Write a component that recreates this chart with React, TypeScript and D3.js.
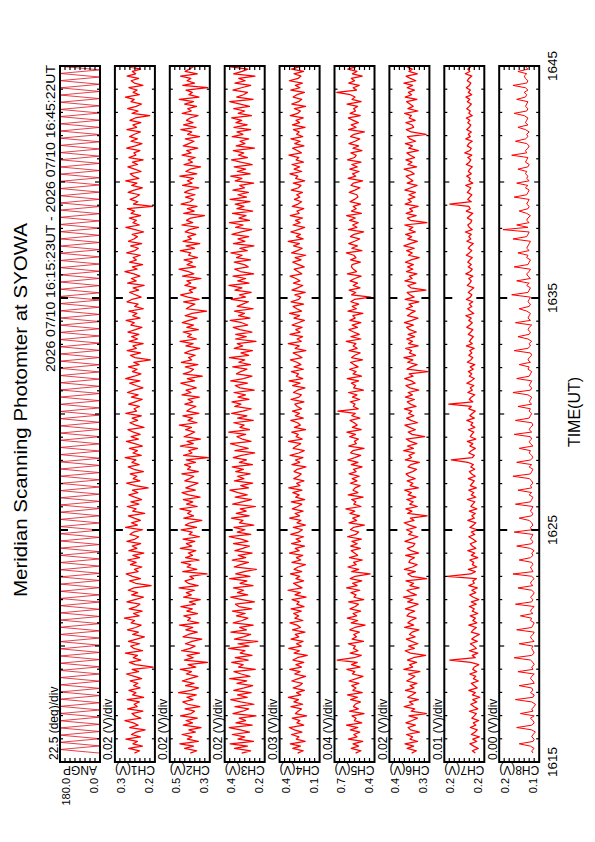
import React from 'react';
import * as d3 from 'd3';

// time is seconds after 16:15:00 UT
const dataStartSec = 23;   // 16:15:23
const dataEndSec = 1822;   // 16:45:22

const panelNames = ['ANGP', 'CH1(V)', 'CH2(V)', 'CH3(V)', 'CH4(V)', 'CH5(V)', 'CH6(V)', 'CH7(V)', 'CH8(V)'];
const divLabels = ['22.5 (deg)/div', '0.02 (V)/div', '0.02 (V)/div', '0.02 (V)/div', '0.03 (V)/div',
  '0.04 (V)/div', '0.02 (V)/div', '0.01 (V)/div', '0.00 (V)/div'];
const topLabels = ['180.0', '0.3', '0.5', '0.4', '0.4', '0.7', '0.4', '0.2', '0.2'];
const bottomLabels = ['0.0', '0.2', '0.3', '0.2', '0.1', '0.4', '0.3', '0.2', '0.1'];
// panel value ranges (deg for ANGP, mV for channels)
const panelDomains = [[0, 180], [180, 340], [320, 480], [220, 380], [130, 370], [380, 700], [270, 430], [160, 240], [130, 162]];

const timeTicks = [0, 600, 1200, 1800];
const timeTickLabels = ['1615', '1625', '1635', '1645'];

// scanner angle turns back and forth between the two ends
const angpSweep = [0, 180];
const angpStepSec = 9.3;

// channel readings in mV, evenly spaced from 16:15:23 to 16:45:22
const ch1 = [
  262,241,285,230,268,250,296,238,274,255,219,281,247,266,300,236,259,272,228,289,251,263,242,291,225,270,256,284,239,265,
  248,279,233,262,294,245,271,187,258,282,236,267,250,298,229,264,277,241,286,253,222,269,246,290,257,235,275,261,302,243,
  266,231,283,254,240,292,260,226,273,249,287,264,195,257,281,238,270,295,247,262,232,278,255,289,241,268,224,284,252,271,
  237,292,259,245,280,266,229,297,250,274,238,263,286,221,269,255,291,244,276,233,261,284,248,270,207,258,293,240,267,252,
  279,226,264,287,243,272,256,299,235,268,250,282,230,261,294,246,275,239,266,288,224,257,280,249,271,234,296,253,263,242,
  285,259,231,274,247,290,264,228,256,281,240,297,262,236,270,251,286,243,265,198,260,278,237,291,254,268,227,283,249,273,
  244,288,258,232,276,263,295,239,269,252,284,226,261,247,292,272,235,258,281,245,267,223,289,255,274,240,264,300,251,270,
  229,282,254,267,238,293,260,246,277,233,286,264,250,271,225,259,296,242,268,254,283,237,275,261,290,189,266,248,279,256,
  241,287,263,230,273,252,297,244,266,279,235,261,288,249,270,227,284,256,264,240,293,258,232,276,250,281,262,238,292,253,
  268,236,280,259,201,271,247,289,255,233,276,263,298,242,267,251,284,228,262,275,245,291,257,270,237,283,196,264,249,278];
const ch2 = [
  398,372,421,385,440,366,410,392,431,378,404,355,426,389,415,370,437,395,381,419,360,408,428,387,412,374,445,396,365,417,
  383,430,401,368,414,393,438,376,407,329,422,386,411,361,433,399,379,418,391,352,427,405,370,416,388,441,364,409,397,424,
  369,412,390,436,377,402,358,425,394,414,381,443,367,406,419,385,400,331,428,372,411,396,434,363,417,389,406,376,438,392,
  414,380,427,361,403,390,435,373,418,399,352,424,385,409,395,440,370,413,388,426,359,405,431,378,416,393,367,420,401,384,
  432,366,409,397,421,377,414,326,425,391,404,369,438,386,411,357,423,400,380,417,393,442,371,407,389,428,364,412,398,376,
  420,388,407,362,431,395,415,374,403,436,381,410,350,426,397,385,418,368,434,392,405,378,421,398,360,416,387,439,373,409,
  394,427,366,412,385,430,403,371,419,391,333,414,399,380,425,363,408,437,389,402,375,420,396,412,355,429,384,406,443,377,
  411,390,423,369,405,396,438,381,415,360,427,393,408,376,419,402,365,432,388,413,397,341,424,382,410,371,435,399,386,417,
  379,421,402,364,429,391,410,385,440,372,416,398,357,423,389,406,378,431,395,413,368,426,404,383,418,361,409,392,436,375,
  425,387,413,399,367,430,394,408,373,421,385,442,363,404,390,415,328,428,381,411,396,437,370,419,402,386,424,365,407,393];
const ch3 = [
  312,276,341,289,358,265,327,300,350,281,318,362,270,335,296,322,255,347,308,284,339,263,316,356,290,329,274,344,302,268,
  331,292,360,279,314,343,258,325,306,352,286,338,271,318,299,364,283,327,248,341,305,276,355,293,320,266,346,310,287,333,
  298,349,272,323,337,261,311,356,288,329,304,345,267,319,291,360,279,336,302,253,342,317,285,350,296,326,270,339,308,281,
  345,287,314,362,276,330,299,343,264,321,307,353,282,334,294,318,257,348,311,273,338,290,327,359,285,316,268,341,303,329,
  278,336,305,350,269,322,293,346,313,260,339,286,324,357,275,310,331,296,364,281,319,302,344,266,328,291,352,307,274,340,
  315,351,283,327,297,343,262,319,338,289,356,305,271,333,316,291,348,277,324,300,361,284,315,269,342,308,330,255,337,294,
  336,271,319,346,288,312,358,279,325,301,341,266,330,308,285,354,297,321,274,339,311,363,283,328,296,347,264,317,340,286,
  302,342,277,333,310,355,290,320,263,345,299,327,284,351,314,272,336,306,361,281,323,295,349,268,331,303,338,279,358,293,
  327,285,347,301,320,264,338,311,356,278,330,296,342,270,316,353,289,325,304,346,261,334,299,319,284,350,307,331,276,343,
  290,335,312,352,273,326,300,344,281,318,360,267,332,305,289,347,313,276,339,298,324,259,344,310,287,356,301,328,272,337];
const ch4 = [
  262,228,291,245,306,217,270,254,299,236,281,312,225,266,248,294,208,275,259,239,302,231,284,257,318,242,268,221,289,251,
  233,297,258,214,280,247,309,238,272,225,290,263,204,283,250,315,240,269,229,301,255,276,218,293,244,266,308,230,279,256,
  286,240,301,223,267,253,295,211,278,246,320,235,262,287,226,272,249,305,237,283,258,215,296,243,269,231,311,252,276,220,
  298,245,271,226,303,256,233,288,215,266,242,310,250,277,229,294,261,237,300,219,274,253,291,236,315,248,268,224,285,257,
  241,283,264,212,296,249,275,230,307,255,222,289,268,243,316,234,271,258,297,214,281,246,262,303,228,276,251,293,238,264,
  279,224,302,254,239,287,263,218,292,247,313,231,270,256,299,227,284,242,266,305,236,260,289,213,277,252,318,240,265,232,
  308,247,273,235,295,259,221,284,250,310,238,267,289,226,301,255,243,279,216,296,262,231,287,248,272,307,237,260,282,222,
  256,291,241,277,213,298,263,234,286,251,319,229,269,244,303,258,220,290,247,274,232,306,253,266,225,294,260,238,281,249,
  267,233,300,257,242,288,219,274,261,308,237,283,250,296,227,271,255,314,239,264,292,224,279,246,302,231,268,253,287,217,
  293,250,272,228,306,261,245,281,214,297,256,237,289,266,221,303,248,275,233,312,259,242,284,226,298,254,270,236,291,263];
const ch5 = [
  531,488,566,507,552,474,589,520,545,498,573,513,604,482,541,527,560,463,580,509,548,535,492,571,516,596,478,553,529,562,
  505,584,526,472,557,538,601,495,564,518,679,542,486,575,511,549,533,590,468,559,524,546,501,578,537,455,567,514,598,523,
  552,491,576,533,509,587,466,544,528,569,497,603,519,556,482,574,535,415,562,507,593,526,548,477,581,515,540,566,493,571,
  518,561,485,596,530,506,572,549,461,584,522,554,499,577,538,609,488,546,529,563,471,590,512,552,535,495,574,520,558,502,
  583,527,548,479,566,512,594,538,491,571,553,464,586,525,541,508,579,532,601,486,557,519,543,575,497,562,534,673,510,549,
  536,574,498,556,521,588,469,547,531,565,507,599,484,552,527,580,511,544,572,476,563,537,495,584,519,551,529,606,489,568,
  502,547,585,517,560,489,577,535,553,473,592,524,558,506,570,541,409,563,530,583,496,551,516,575,538,487,597,523,549,565,
  559,493,571,528,546,605,481,562,517,586,539,499,573,544,467,588,521,555,510,579,533,603,485,565,526,550,492,576,541,513,
  521,582,537,496,568,549,475,591,530,556,503,578,518,562,488,596,540,526,569,480,553,507,584,535,498,571,545,461,587,528,
  566,509,550,589,494,575,532,547,516,600,487,560,536,573,682,524,551,502,586,539,565,478,557,520,594,531,545,505,577,541];
const ch6 = [
  341,322,359,333,368,317,348,337,362,310,345,355,326,364,339,318,352,282,343,329,371,335,350,314,357,340,325,366,331,347,
  320,361,343,328,354,308,372,337,349,321,358,334,285,346,367,330,353,316,341,362,327,350,339,312,369,333,356,344,323,360,
  351,329,366,340,315,357,336,374,322,345,360,311,348,333,364,281,342,356,326,370,338,319,352,347,330,365,313,343,358,335,
  328,368,344,316,353,339,362,323,350,371,331,346,279,357,340,364,318,349,335,361,324,355,342,369,314,347,336,359,327,352,
  363,337,321,356,345,310,367,341,352,329,373,334,358,320,347,363,289,339,355,326,349,368,317,344,361,332,353,340,370,323,
  346,359,330,366,338,355,313,348,364,327,342,369,335,351,276,360,343,319,357,336,372,325,350,341,365,315,353,337,361,329,
  355,322,349,361,334,370,340,316,358,345,327,363,338,352,312,367,331,348,359,284,344,356,324,368,339,350,320,362,336,357,
  334,366,343,311,354,339,361,330,372,347,318,357,341,365,326,351,336,369,280,346,358,323,363,337,349,315,367,342,355,328,
  352,326,368,344,319,359,336,350,363,331,345,371,321,356,340,364,329,347,360,314,353,338,366,325,348,358,283,343,362,333,
  339,364,327,351,342,369,316,356,335,348,361,320,367,341,354,330,359,337,372,324,346,363,318,352,339,360,329,349,366,336];
const ch7 = [
  178,184,172,181,189,175,183,170,186,179,174,188,177,182,171,185,180,176,190,173,181,187,175,183,169,184,178,191,174,180,
  186,172,182,177,189,175,183,180,171,187,229,178,184,173,190,176,181,188,174,185,179,170,186,182,176,191,175,183,178,188,
  173,184,180,190,176,186,171,182,189,177,185,174,191,180,183,176,234,187,178,192,175,184,181,189,173,186,179,193,177,184,
  188,176,183,191,179,186,174,189,182,177,193,180,185,178,190,175,187,183,179,194,177,186,181,191,176,188,184,180,192,178,
  185,190,179,187,182,193,226,184,180,191,186,178,189,183,194,177,188,185,181,192,179,187,183,195,180,189,184,178,191,186,
  231,183,190,186,179,193,184,188,181,195,186,180,190,185,192,182,188,179,194,187,183,191,185,189,180,196,184,190,186,182,
  192,187,183,195,189,184,191,186,197,181,188,193,185,190,183,196,188,185,192,187,181,194,189,186,191,183,197,188,184,192,
  186,193,189,184,196,190,185,192,188,182,195,187,191,186,198,184,190,193,187,185,194,189,183,196,188,191,229,186,193,189,
  185,194,190,187,197,183,191,188,195,186,192,189,184,196,190,187,193,185,199,189,186,194,191,184,197,188,192,186,195,190,
  187,193,189,196,184,191,188,195,190,186,194,189,197,185,192,188,196,190,187,194,191,185,198,189,193,187,195,190,186,192];
const ch8 = [
  135,136,134,137,146,135,134,136,135,133,136,148,136,134,135,137,134,145,135,136,134,133,136,149,135,134,137,135,136,146,
  134,135,137,136,134,147,135,136,134,135,137,150,136,134,135,136,135,146,134,136,137,135,134,148,136,135,134,137,136,145,
  135,137,136,134,149,136,135,137,135,134,136,147,135,137,136,134,136,151,135,136,137,135,136,146,137,135,136,134,137,148,
  136,135,137,136,135,150,136,137,135,136,138,146,136,135,137,136,135,149,137,136,135,138,136,147,136,137,135,136,138,151,
  137,136,135,138,136,148,137,135,136,138,137,146,135,137,138,136,137,150,136,138,137,135,136,149,138,137,136,138,137,147,
  136,138,137,136,139,151,137,136,138,137,136,148,138,137,136,139,138,146,137,139,138,136,137,150,139,137,138,136,139,147,
  138,137,139,138,136,149,137,139,138,137,140,146,138,137,139,138,137,152,139,138,137,140,138,148,137,139,140,138,137,150,
  139,138,137,140,139,147,138,140,139,138,137,151,140,139,138,159,139,148,138,140,139,137,140,146,139,138,140,139,138,150,
  140,139,138,141,139,148,138,140,139,141,140,147,139,138,141,140,139,152,140,141,139,138,140,149,141,139,140,138,141,147,
  139,141,140,139,142,150,140,139,141,140,139,148,141,140,142,139,141,151,140,139,141,142,140,147,139,141,140,142,141,149];

const channels = [ch1, ch2, ch3, ch4, ch5, ch6, ch7, ch8];

const font = 'Liberation Sans, Arial, Helvetica, sans-serif';

function App() {
  // drawing frame is the page turned on its side: u runs along time, v across panels
  const x = d3.scaleLinear().domain([0, 1800]).range([80, 776]);
  const panelTop = (i: number) => 60 + 54.9 * i;
  const panelH = 40;

  const angp: [number, number][] = [];
  for (let k = 0; dataStartSec + k * angpStepSec <= dataEndSec; k++) {
    angp.push([dataStartSec + k * angpStepSec, angpSweep[k % 2]]);
  }
  const series: [number, number][][] = [angp].concat(channels.map(ch =>
    ch.map((v, i) => [dataStartSec + i * (dataEndSec - dataStartSec) / (ch.length - 1), v] as [number, number])));

  const minutes = d3.range(0, 31);

  return (
    <svg width={595} height={842} style={{ position: 'absolute', left: 0, top: 0, background: '#fff' }}
      fontFamily={font}>
      <g transform="translate(0,842) rotate(-90)">
        <text x={432} y={27} fontSize={19} textAnchor="middle" textLength={374} lengthAdjust="spacingAndGlyphs">
          Meridian Scanning Photomter at SYOWA
        </text>
        <text x={777} y={55} fontSize={12.5} textAnchor="end" textLength={307} lengthAdjust="spacingAndGlyphs">
          2026 07/10 16:15:23UT - 2026 07/10 16:45:22UT
        </text>

        {series.map((pts, i) => {
          const top = panelTop(i);
          const y = d3.scaleLinear().domain(panelDomains[i]).range([top + panelH, top]);
          const line = d3.line<[number, number]>().x(d => x(d[0])).y(d => y(d[1]));
          const vc = top + panelH / 2;
          return (
            <g key={i}>
              <defs>
                <clipPath id={'clip' + i}>
                  <rect x={80} y={top} width={696} height={panelH} />
                </clipPath>
              </defs>
              <rect x={80} y={top} width={696} height={panelH} fill="#fff" />
              <path d={line(pts) || ''} fill="none" stroke={i === 0 ? '#dd1020' : '#ff0000'}
                strokeWidth={i === 0 ? 0.8 : i === 8 ? 1 : 1.25} strokeLinejoin="round"
                clipPath={`url(#clip${i})`} />
              {minutes.map(m => {
                const len = m % 10 === 0 ? 8 : m % 5 === 0 ? 5 : 3;
                const sw = m % 10 === 0 ? 2 : 1.2;
                const u = x(m * 60);
                return (
                  <g key={m} stroke="#000" strokeWidth={sw}>
                    <line x1={u} x2={u} y1={top} y2={top + len} />
                    <line x1={u} x2={u} y1={top + panelH} y2={top + panelH - len} />
                  </g>
                );
              })}
              {d3.range(1, 8).map(k => {
                const v = y(panelDomains[i][0] + (panelDomains[i][1] - panelDomains[i][0]) * k / 8);
                return (
                  <g key={'y' + k} stroke="#000" strokeWidth={1.2}>
                    <line x1={80} x2={84} y1={v} y2={v} />
                    <line x1={776} x2={772} y1={v} y2={v} />
                  </g>
                );
              })}
              <rect x={80} y={top} width={696} height={panelH} fill="none" stroke="#000" strokeWidth={2} />
              <text x={82} y={top - 2.5} fontSize={12}>{divLabels[i]}</text>
              <text x={64} y={top + 10} fontSize={11} textAnchor="end">{topLabels[i]}</text>
              <text x={64} y={top + panelH - 2} fontSize={11} textAnchor="end">{bottomLabels[i]}</text>
              <text x={76} y={vc} fontSize={12} textAnchor="middle" transform={`rotate(-90,76,${vc})`}>
                {panelNames[i]}
              </text>
            </g>
          );
        })}

        {timeTicks.map((t, i) => (
          <text key={t} x={x(t)} y={557} fontSize={13.5} textAnchor="middle">{timeTickLabels[i]}</text>
        ))}
        <text x={430} y={580} fontSize={16} textAnchor="middle">TIME(UT)</text>
      </g>
    </svg>
  );
}

export default App;
